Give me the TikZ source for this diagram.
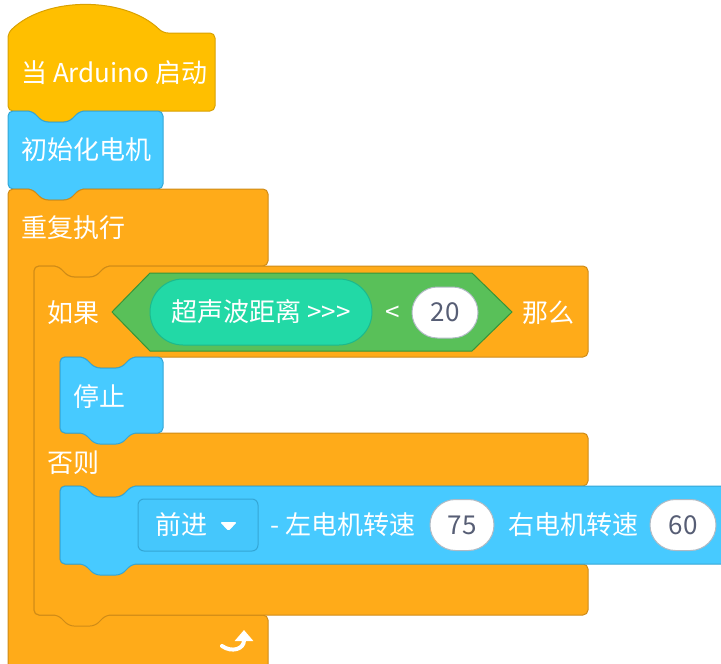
\documentclass[tikz,border=0pt]{standalone}
\usepackage{fontspec}
\setmainfont{Noto Sans CJK SC}
\usetikzlibrary{arrows.meta,shapes.misc}
\definecolor{hatY}{HTML}{FFBF00}
\definecolor{hatB}{HTML}{D9A100}
\definecolor{ctrlO}{HTML}{FFAB19}
\definecolor{ctrlB}{HTML}{CF8B17}
\definecolor{motF}{HTML}{47CAFF}
\definecolor{motD}{HTML}{34A6D6}
\definecolor{ddF}{HTML}{45C7FC}
\definecolor{opG}{HTML}{59C059}
\definecolor{opGB}{HTML}{389438}
\definecolor{senT}{HTML}{22D9A6}
\definecolor{senTB}{HTML}{1DB98C}
\definecolor{valT}{HTML}{575E75}
\definecolor{valB}{HTML}{B0BAC4}
\def\notchR#1#2{-- ({#1+24},#2) -- ({#1+35},{#2+11}) -- ({#1+61},{#2+11}) -- ({#1+72},#2)}
\def\tabL#1#2{-- ({#1+72},#2) -- ({#1+61},{#2+11}) -- ({#1+35},{#2+11}) -- ({#1+24},#2)}
\tikzset{
  blk/.style={rounded corners=5pt, line width=1pt, line join=round},
  hatblk/.style={blk, fill=hatY, draw=hatB},
  ctrl/.style={blk, fill=ctrlO, draw=ctrlB},
  mot/.style={blk, fill=motF, draw=motD},
  lbl/.style={text=white, font=\fontsize{26}{28}\selectfont, inner sep=0pt, anchor=west},
  oval/.style={rounded rectangle, fill=white, draw=valB, line width=1pt, text=valT, font=\fontsize{26}{28}\selectfont, inner sep=0pt, minimum height=51pt}
}
\begin{document}
\begin{tikzpicture}[x=1pt,y=-1pt]
\useasboundingbox (0,0) rectangle (721,664);
\clip (0,0) rectangle (721,664);
% hat block
\draw[hatblk] (8,111) -- (8,33) .. controls (46,-4) and (125,-4) .. (163,33) -- (215,33) -- (215,111) \tabL{8}{111} -- cycle;
% init motor
\draw[mot] (8,189) -- (8,111) \notchR{8}{111} -- (163,111) -- (163,189) \tabL{8}{189} -- cycle;
% repeat
\draw[ctrl] (8,690) -- (8,189) \notchR{8}{189} -- (268,189) -- (268,266) \tabL{34}{266} -- (34,266) -- (34,615) -- (268,615) -- (268,690) -- cycle;
% if else
\draw[ctrl] (34,615) -- (34,266) \notchR{34}{266} -- (588,266) -- (588,357) \tabL{60}{357} -- (60,357) -- (60,433) -- (588,433) -- (588,486) \tabL{60}{486} -- (60,486) -- (60,564) -- (588,564) -- (588,615) \tabL{34}{615} -- cycle;
% stop
\draw[mot] (60,433) -- (60,357) \notchR{60}{357} -- (163,357) -- (163,433) \tabL{60}{433} -- cycle;
% motor
\draw[mot] (60,564) -- (60,486) \notchR{60}{486} -- (745,486) -- (745,564) \tabL{60}{564} -- cycle;
% condition
\draw[fill=opG, draw=opGB, line width=1pt, line join=round] (112,312) -- (150,273) -- (472,273) -- (512,312) -- (472,351) -- (150,351) -- cycle;
\node[rounded rectangle, fill=senT, draw=senTB, line width=1pt, minimum width=222pt, minimum height=66pt, inner sep=0pt, text=white, font=\fontsize{26}{28}\selectfont] (sensor) at (261,312) {超声波距离 >{}>{}>};
\node[lbl, anchor=center] (lt) at (393,314) {<};
\node[oval, minimum width=66pt] (v20) at (445,312.5) {20};
% texts
\node[lbl] (t1) at (21,73) {当 Arduino 启动};
\node[lbl] (t2) at (21,150) {初始化电机};
\node[lbl] (t3) at (21,228) {重复执行};
\node[lbl] (t4) at (47,313) {如果};
\node[lbl] (t5) at (522,313) {那么};
\node[lbl] (t6) at (73,397) {停止};
\node[lbl] (t7) at (47,463) {否则};
% dropdown
\node[rounded corners=6pt, fill=ddF, draw=motD, line width=1pt, minimum width=120pt, minimum height=52pt] (dd) at (198,525) {};
\node[lbl] (t8) at (155,525) {前进};
\fill[white, rounded corners=1.5pt] (220,522) -- (237,522) -- (228.5,531) -- cycle;
\node[lbl] (t9) at (270,525) {- 左电机转速};
\node[oval, minimum width=64pt] (v75) at (462,525) {75};
\node[lbl] (t10) at (508,525) {右电机转速};
\node[oval, minimum width=66pt] (v60) at (683,525) {60};
% loop arrow
\draw[white, line width=4pt, line cap=round, -{Triangle[width=18pt,length=11pt]}] (222,646) .. controls (232,653) and (244,649) .. (244,630);
\end{tikzpicture}
\end{document}
